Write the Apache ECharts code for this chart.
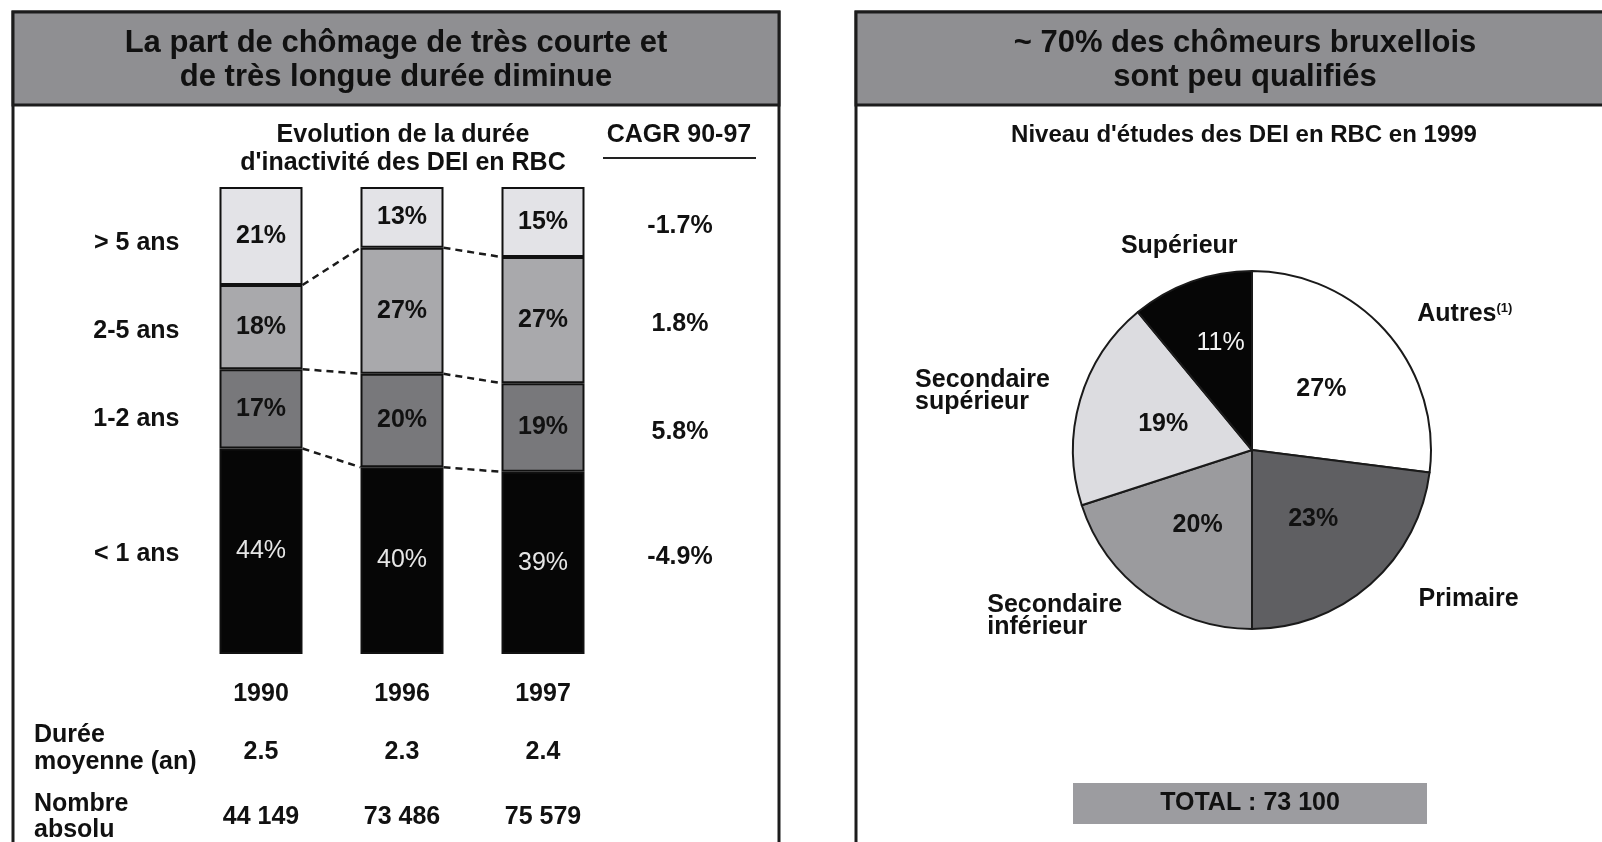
<!DOCTYPE html>
<html>
<head>
<meta charset="utf-8">
<title>DEI RBC</title>
<script src="https://cdn.jsdelivr.net/npm/echarts@6/dist/echarts.min.js"></script>
<style>
  html, body { margin: 0; padding: 0; background: #fff; }
  #main { width: 1602px; height: 842px; }
</style>
</head>
<body>
<div id="main"></div>
<script>
// ---- data (stack order: bottom -> top) ----
var years = ['1990', '1996', '1997'];
var durations = ['< 1 ans', '1-2 ans', '2-5 ans', '> 5 ans'];
var shareLt1 = [44, 40, 39];
var share1to2 = [17, 20, 19];
var share2to5 = [18, 27, 27];
var shareGt5 = [21, 13, 15];
var cagr = ['-4.9%', '5.8%', '1.8%', '-1.7%'];
var avgDuration = ['2.5', '2.3', '2.4'];
var absCount = ['44 149', '73 486', '75 579'];

var eduLevels = ['Autres', 'Primaire', 'Secondaire inférieur', 'Secondaire supérieur', 'Supérieur'];
var eduShare = [27, 23, 20, 19, 11];
var totalCount = '73 100';

// ---- styles ----
var FONT = '"Liberation Sans", Arial, sans-serif';
var BAR_W = 83;
var segColors = ['#060606', '#78787b', '#a9a9ac', '#e3e3e7'];
var eduColors = ['#ffffff', '#5f5f62', '#9b9b9e', '#dcdce0', '#060606'];
var nameShift = [[11, -4], [30, 0], [-8, 5], [-6, -3], [58, -17]];
var rowShift = [3, 10, 4, 7];   // small vertical nudges of the row labels
var cagrShift = [-6, 5, 4, 4];

var stacks = [shareLt1, share1to2, share2to5, shareGt5];

// cumulative tops per segment
var cum = [];
stacks.forEach(function (arr, k) {
    cum.push(arr.map(function (v, i) { return (k ? cum[k - 1][i] : 0) + v; }));
});

// dashed connectors between neighbouring bars
var connectors = [];
for (var k = 0; k < 3; k++) {
    for (var i = 0; i < years.length - 1; i++) {
        connectors.push([i, cum[k][i], cum[k][i + 1]]);
    }
}
// row label / CAGR anchor = segment middle in first and last bar
var rowAnchors = stacks.map(function (arr, k) {
    var last = years.length - 1;
    return [0, cum[k][0] - arr[0] / 2, cum[k][last] - arr[last] / 2];
});

var barSeries = stacks.map(function (arr, k) {
    return {
        name: durations[k],
        type: 'bar',
        stack: 'dur',
        barWidth: BAR_W,
        data: arr,
        itemStyle: { color: segColors[k], borderColor: '#111', borderWidth: 2 },
        label: {
            show: true,
            position: 'inside',
            formatter: '{c}%',
            fontFamily: FONT,
            fontSize: 25,
            fontWeight: k === 0 ? 'normal' : 'bold',
            color: k === 0 ? '#e6e6e6' : '#111'
        },
        silent: true
    };
});

function txt(text, x, y, size, align, lh) {
    return {
        type: 'text', z: 5,
        style: {
            text: text, x: x, y: y,
            font: 'bold ' + size + 'px ' + FONT,
            fill: '#111',
            textAlign: align || 'center', align: align || 'center',
            textVerticalAlign: 'middle', verticalAlign: 'middle',
            lineHeight: lh || size
        }
    };
}

var myChart = echarts.init(document.getElementById('main'));
var option = {
    backgroundColor: '#fff',
    animation: false,
    grid: { left: 190.5, right: 988.5, top: 187, bottom: 188, outerBoundsMode: 'none' },
    xAxis: [
        { type: 'category', data: years, axisLine: { show: false }, axisTick: { show: false },
          axisLabel: { margin: 28, fontFamily: FONT, fontSize: 25, fontWeight: 'bold', color: '#111' } },
        { type: 'category', data: avgDuration, position: 'bottom', offset: 78, axisLine: { show: false }, axisTick: { show: false },
          axisLabel: { margin: 8, fontFamily: FONT, fontSize: 25, fontWeight: 'bold', color: '#111' } },
        { type: 'category', data: absCount, position: 'bottom', offset: 143, axisLine: { show: false }, axisTick: { show: false },
          axisLabel: { margin: 8, fontFamily: FONT, fontSize: 25, fontWeight: 'bold', color: '#111' } }
    ],
    yAxis: { type: 'value', min: 0, max: 100, show: false },
    graphic: [
        { type: 'rect', z: 0, shape: { x: 13, y: 12, width: 766, height: 845 }, style: { fill: '#fff', stroke: '#1c1c1c', lineWidth: 3 } },
        { type: 'rect', z: 0, shape: { x: 13, y: 12, width: 766, height: 93 }, style: { fill: '#8f8f92', stroke: '#1c1c1c', lineWidth: 3 } },
        { type: 'rect', z: 0, shape: { x: 856, y: 12, width: 800, height: 845 }, style: { fill: '#fff', stroke: '#1c1c1c', lineWidth: 3 } },
        { type: 'rect', z: 0, shape: { x: 856, y: 12, width: 800, height: 93 }, style: { fill: '#8f8f92', stroke: '#1c1c1c', lineWidth: 3 } },
        txt('La part de chômage de très courte et\nde très longue durée diminue', 396, 60, 31, 'center', 34),
        txt('~ 70% des chômeurs bruxellois\nsont peu qualifiés', 1245, 60, 31, 'center', 34),
        txt('Evolution de la durée\nd\'inactivité des DEI en RBC', 403, 149, 25, 'center', 28),
        txt('CAGR 90-97', 679, 135, 25),
        { type: 'line', z: 5, shape: { x1: 603, y1: 158, x2: 756, y2: 158 }, style: { stroke: '#222', lineWidth: 2 } },
        txt('Durée\nmoyenne (an)', 34, 749, 25, 'left', 27),
        txt('Nombre\nabsolu', 34, 817, 25, 'left', 26),
        txt('Niveau d\'études des DEI en RBC en 1999', 1244, 135, 24),
        { type: 'rect', z: 0, shape: { x: 1073, y: 783, width: 354, height: 41 }, style: { fill: '#9c9ca0' } },
        txt('TOTAL : ' + totalCount, 1250, 803, 25)
    ],
    series: barSeries.concat([
        {
            type: 'custom',
            silent: true,
            z: 4,
            encode: { x: 0, y: 1 },
            data: connectors,
            renderItem: function (params, api) {
                var p1 = api.coord([api.value(0), api.value(1)]);
                var p2 = api.coord([api.value(0) + 1, api.value(2)]);
                return {
                    type: 'line',
                    shape: { x1: p1[0] + BAR_W / 2, y1: p1[1], x2: p2[0] - BAR_W / 2, y2: p2[1] },
                    style: { stroke: '#1a1a1a', lineWidth: 2.5, lineDash: [7, 5] }
                };
            }
        },
        {
            type: 'custom',
            silent: true,
            z: 4,
            encode: { x: 0, y: 1 },
            data: rowAnchors,
            renderItem: function (params, api) {
                var p1 = api.coord([0, api.value(1)]);
                var p3 = api.coord([years.length - 1, api.value(2)]);
                var font = 'bold 25px ' + FONT;
                var k = params.dataIndex;
                return {
                    type: 'group',
                    children: [
                        { type: 'text', style: { text: durations[k], x: p1[0] - BAR_W / 2 - 40, y: p1[1] + rowShift[k],
                            font: font, fill: '#111', align: 'right', textAlign: 'right', verticalAlign: 'middle', textVerticalAlign: 'middle' } },
                        { type: 'text', style: { text: cagr[k], x: p3[0] + 137, y: p3[1] + cagrShift[k],
                            font: font, fill: '#111', align: 'center', textAlign: 'center', verticalAlign: 'middle', textVerticalAlign: 'middle' } }
                    ]
                };
            }
        },
        {
            type: 'pie',
            center: [1252, 450],
            radius: 179,
            startAngle: 90,
            clockwise: true,
            silent: true,
            avoidLabelOverlap: false,
            itemStyle: { borderColor: '#1a1a1a', borderWidth: 2 },
            label: { show: true, position: 'inside', formatter: '{c}%', fontFamily: FONT, fontSize: 25, fontWeight: 'bold', color: '#111' },
            labelLine: { show: false },
            labelLayout: function (p) {
                return p.dataIndex === 4 ? { dy: -20 } : {};
            },
            data: eduLevels.map(function (n, i) {
                var item = { name: n, value: eduShare[i], itemStyle: { color: eduColors[i] } };
                if (i === 4) item.label = { color: '#f2f2f2', fontWeight: 'normal' };
                return item;
            })
        },
        {
            type: 'pie',
            center: [1252, 450],
            radius: 179,
            startAngle: 90,
            clockwise: true,
            silent: true,
            z: 3,
            avoidLabelOverlap: false,
            itemStyle: { color: 'rgba(0,0,0,0)', borderWidth: 0 },
            label: {
                show: true,
                position: 'outside',
                fontFamily: FONT, fontSize: 25, fontWeight: 'bold', color: '#111', lineHeight: 22,
                formatter: function (p) {
                    if (p.dataIndex === 0) return '{b|' + p.name + '}{sup|(1)}';
                    return p.name.replace(' ', '\n');
                },
                rich: {
                    b: { fontFamily: FONT, fontSize: 25, fontWeight: 'bold', color: '#111' },
                    sup: { fontFamily: FONT, fontSize: 13, fontWeight: 'bold', color: '#111', padding: [0, 0, 12, 0] }
                }
            },
            labelLine: { show: false, length: 20, length2: 0 },
            labelLayout: function (p) {
                var s = nameShift[p.dataIndex];
                if (p.dataIndex === 2 || p.dataIndex === 3) {
                    return { x: p.labelRect.x + s[0], dy: s[1], align: 'left' };
                }
                return { dx: s[0], dy: s[1] };
            },
            data: eduLevels.map(function (n, i) { return { name: n, value: eduShare[i] }; })
        }
    ])
};
myChart.setOption(option);
</script>
</body>
</html>
